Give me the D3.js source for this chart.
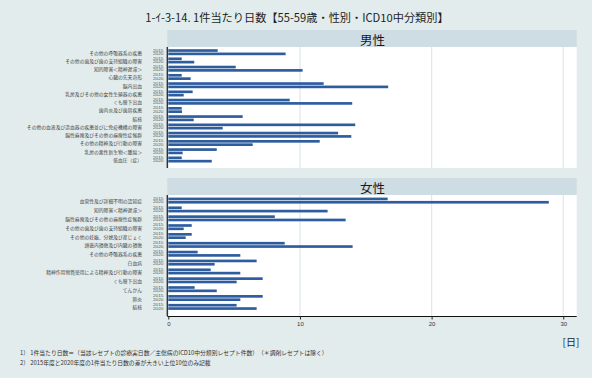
<!DOCTYPE html>
<html>
<head>
<meta charset="utf-8">
<script src="https://cdn.jsdelivr.net/npm/d3@7"></script>
<style>
  body { margin: 0; background: #e3ecec; }
  svg { display: block; }
  text { font-family: "Liberation Sans", "Noto Sans CJK JP", sans-serif; }
  .jp { font-family: "Noto Sans CJK JP", "Liberation Sans", sans-serif; }
</style>
</head>
<body>
<svg id="chart" width="592" height="378"></svg>
<script>
// Average days per claim, ages 55-59, by sex and ICD10 mid-level category
const years = ["2015", "2020"];

const maleCategories = [
  "その他の呼吸器系の疾患",
  "その他の歯及び歯の支持組織の障害",
  "知的障害＜精神遅滞＞",
  "心臓の先天奇形",
  "脳内出血",
  "乳房及びその他の女性生殖器の疾患",
  "くも膜下出血",
  "歯肉炎及び歯周疾患",
  "結核",
  "その他の血液及び造血器の疾患並びに免疫機構の障害",
  "脳性麻痺及びその他の麻痺性症候群",
  "その他の精神及び行動の障害",
  "乳房の悪性新生物＜腫瘍＞",
  "低血圧（症）"
];
const male2015 = [3.75, 1.02, 5.12, 1.02, 11.8, 1.85, 9.22, 1.02, 5.65, 14.2, 12.9, 11.5, 3.68, 1.02];
const male2020 = [8.91, 1.97, 10.2, 1.70, 16.7, 1.17, 13.97, 1.04, 1.93, 4.13, 13.9, 6.41, 1.09, 3.30];

const femaleCategories = [
  "血管性及び詳細不明の認知症",
  "知的障害＜精神遅滞＞",
  "脳性麻痺及びその他の麻痺性症候群",
  "その他の歯及び歯の支持組織の障害",
  "その他の妊娠、分娩及び産じょく",
  "頭蓋内損傷及び内臓の損傷",
  "その他の呼吸器系の疾患",
  "白血病",
  "精神作用物質使用による精神及び行動の障害",
  "くも膜下出血",
  "てんかん",
  "肺炎",
  "結核"
];
const female2015 = [16.66, 1.02, 8.09, 1.78, 1.78, 8.84, 2.23, 6.71, 3.22, 7.17, 2.0, 7.17, 5.19];
const female2020 = [28.9, 12.1, 13.47, 1.17, 1.32, 14.0, 5.47, 3.52, 5.47, 5.19, 3.68, 5.47, 6.71];

const xTicks = [0, 10, 20, 30];
const xMax = 31.02;

const titleText = "1-ｲ-3-14. 1件当たり日数【55-59歳・性別・ICD10中分類別】";
const unitText = "[日]";
const notes = [
  "1）  1件当たり日数＝（当該レセプトの診療実日数／主傷病のICD10中分類別レセプト件数）　（＊調剤レセプトは除く）",
  "2）  2015年度と2020年度の1件当たり日数の差が大きい上位10位のみ記載"
];

const panels = [
  { label: "男性", categories: maleCategories, values: [male2015, male2020], stripTop: 30, top: 47, bottom: 168 },
  { label: "女性", categories: femaleCategories, values: [female2015, female2020], stripTop: 178, top: 195, bottom: 316 }
];

const svg = d3.select("#chart");
const W = 592;
const plotLeft = 167.3, plotRight = 576.7;
const barColor = "#2d5d9f";

const x = d3.scaleLinear().domain([0, xMax]).range([168.3, plotRight]);

// background
svg.append("rect").attr("width", W).attr("height", 378).attr("fill", "#e3ecec");

// title
svg.append("text").attr("class", "jp")
  .attr("x", 297).attr("y", 17)
  .attr("text-anchor", "middle").attr("dominant-baseline", "central")
  .attr("font-size", 11.2).attr("fill", "#1e1e1e")
  .text(titleText);

panels.forEach(p => {
  const g = svg.append("g");

  // strip
  g.append("rect")
    .attr("x", plotLeft).attr("y", p.stripTop)
    .attr("width", plotRight - plotLeft).attr("height", p.top - p.stripTop)
    .attr("fill", "#cddde3");
  g.append("text").attr("class", "jp")
    .attr("x", (plotLeft + plotRight) / 2 + 0.5).attr("y", (p.stripTop + p.top) / 2 + 0.5)
    .attr("text-anchor", "middle").attr("dominant-baseline", "central")
    .attr("font-size", 12.5).attr("fill", "#1a1a1a")
    .text(p.label);

  // panel
  g.append("rect")
    .attr("x", plotLeft).attr("y", p.top)
    .attr("width", plotRight - plotLeft).attr("height", p.bottom - p.top)
    .attr("fill", "#ffffff");

  // vertical grid lines
  g.selectAll("line.grid").data(xTicks).join("line")
    .attr("class", "grid")
    .attr("x1", d => x(d)).attr("x2", d => x(d))
    .attr("y1", p.top).attr("y2", p.bottom)
    .attr("stroke", "#e0eaec").attr("stroke-width", 1.3);

  // category positions and year offsets inside each row
  const y = d3.scalePoint().domain(p.categories)
    .range([p.top, p.bottom]).padding(0.83).align(0.38);
  const yYear = d3.scaleBand().domain(years).range([-3, 3]).paddingInner(0.2);

  const rows = [];
  p.categories.forEach((c, i) => {
    years.forEach((yr, j) => rows.push({ cat: c, year: yr, value: p.values[j][i] }));
  });

  // bars
  g.selectAll("rect.bar").data(rows).join("rect")
    .attr("class", "bar")
    .attr("x", x(0))
    .attr("y", d => y(d.cat) + yYear(d.year))
    .attr("width", d => x(d.value) - x(0))
    .attr("height", yYear.bandwidth())
    .attr("fill", barColor);

  // year labels (tightly stacked pair per row)
  g.selectAll("text.yr").data(rows).join("text")
    .attr("class", "yr")
    .attr("x", 163.5)
    .attr("y", d => y(d.cat) + yYear(d.year) + yYear.bandwidth() / 2)
    .attr("text-anchor", "end").attr("dominant-baseline", "central")
    .attr("font-size", 3.3)
    .attr("textLength", 10.5).attr("lengthAdjust", "spacingAndGlyphs")
    .attr("fill", "#555")
    .text(d => d.year);

  // category labels
  g.selectAll("text.cat").data(p.categories).join("text")
    .attr("class", "cat jp")
    .attr("x", 142)
    .attr("y", d => y(d))
    .attr("text-anchor", "end").attr("dominant-baseline", "central")
    .attr("font-size", 4.8).attr("fill", "#444")
    .text(d => d);

  // y axis line
  g.append("line")
    .attr("x1", plotLeft).attr("x2", plotLeft)
    .attr("y1", p.top).attr("y2", p.bottom)
    .attr("stroke", "#333").attr("stroke-width", 1.4);
});

// x axis below the last panel
const last = panels[panels.length - 1];
const xAxis = d3.axisBottom(x).tickValues(xTicks).tickSize(3.5).tickPadding(2.5).tickFormat(d3.format("d"));
const ax = svg.append("g").attr("transform", `translate(0,${last.bottom})`).call(xAxis);
ax.select(".domain").attr("d", `M${plotLeft},0.5H${plotRight}`).attr("stroke", "#111").attr("stroke-width", 1.2);
ax.selectAll(".tick line").attr("stroke", "#222").attr("stroke-width", 1);
ax.selectAll(".tick text").attr("font-size", 6).attr("fill", "#333")
  .attr("font-family", "Liberation Sans, sans-serif");

// unit label
svg.append("text").attr("class", "jp")
  .attr("x", 571).attr("y", 341.5)
  .attr("text-anchor", "middle").attr("dominant-baseline", "central")
  .attr("font-size", 10).attr("fill", "#1e1e1e")
  .text(unitText);

// notes
svg.selectAll("text.note").data(notes).join("text")
  .attr("class", "note jp")
  .attr("x", 20).attr("y", (d, i) => 352.3 + i * 10)
  .attr("dominant-baseline", "central")
  .attr("font-size", 5.8).attr("fill", "#333")
  .text(d => d);
</script>
</body>
</html>
